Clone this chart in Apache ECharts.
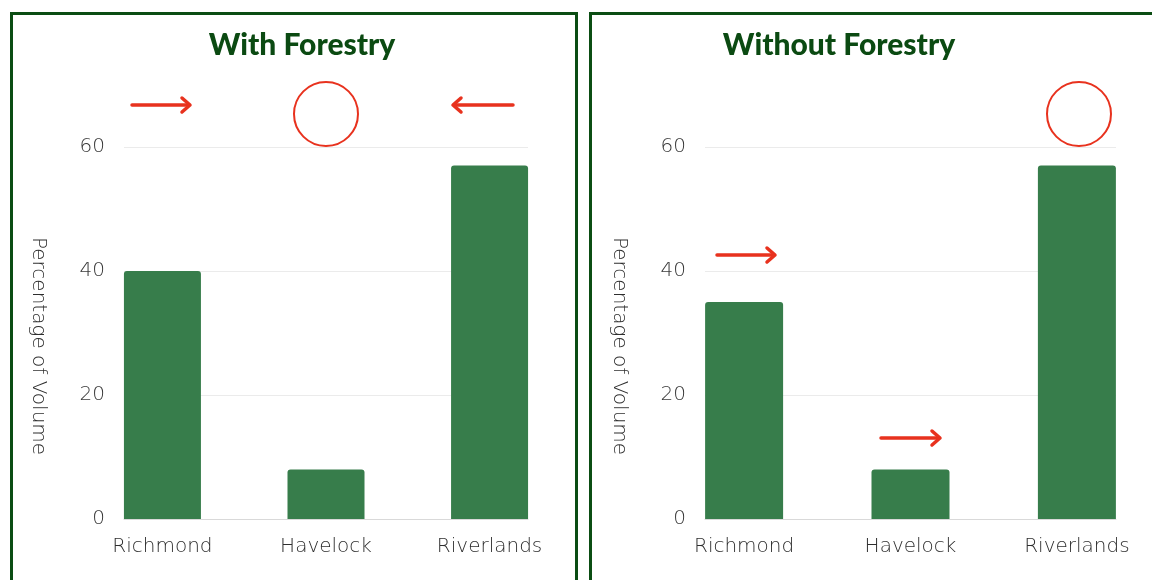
<!DOCTYPE html>
<html>
<head>
<meta charset="utf-8">
<script src="https://cdn.jsdelivr.net/npm/echarts@6/dist/echarts.min.js"></script>
<style>
  html, body { margin: 0; padding: 0; background: #fff; }
  #chart { width: 1152px; height: 580px; }
</style>
</head>
<body>
<div id="chart"></div>
<script>
const categories = ['Richmond', 'Havelock', 'Riverlands']
const withForestry = [40, 8, 57]
const withoutForestry = [35, 8, 57]
const yTicks = [0, 20, 40, 60]

const barColor = '#377d4b'
const titleColor = '#0b4a12'
const red = '#e8321e'
const labelFont = '"DejaVu Sans", sans-serif'
const titleFont = 'Lato, sans-serif'

const chart = echarts.init(document.getElementById('chart'), null, { renderer: 'canvas' })

const makeX = (gridIndex) => ({
  type: 'value',
  gridIndex,
  min: -0.235,
  max: 2.235,
  axisLine: { show: true, onZero: false, lineStyle: { color: '#d9d9d9', width: 1 } },
  axisTick: { show: false },
  splitLine: { show: false },
  axisLabel: {
    customValues: categories.map((c, i) => i),
    formatter: v => categories[Math.round(v)],
    color: '#2e2e2e',
    fontSize: 20,
    fontWeight: 200,
    fontFamily: labelFont,
    margin: 18
  }
})

const makeY = (gridIndex) => ({
  type: 'value',
  gridIndex,
  min: yTicks[0],
  max: yTicks[yTicks.length - 1],
  interval: 20,
  name: 'Percentage of Volume',
  nameLocation: 'middle',
  nameRotate: -90,
  nameGap: 76,
  nameTextStyle: { color: '#2e2e2e', fontSize: 20, fontWeight: 200, fontFamily: labelFont, padding: [0, 0, 0, 26] },
  axisLine: { show: false },
  axisTick: { show: false },
  splitLine: { lineStyle: { color: '#ebebeb', width: 1 } },
  axisLabel: { color: '#3a3a3a', fontSize: 20, fontWeight: 200, fontFamily: labelFont, margin: 19 }
})

const makeSeries = (idx, values, width) => ({
  type: 'bar',
  xAxisIndex: idx,
  yAxisIndex: idx,
  data: values.map((v, i) => [i, v]),
  barWidth: width,
  itemStyle: { color: barColor, borderRadius: [3, 3, 0, 0] }
})

const arrow = (x1, x2, y) => {
  const dir = x2 > x1 ? 1 : -1
  return {
    type: 'group',
    children: [
      { type: 'line', shape: { x1, y1: y, x2: x2 - dir * 2, y2: y },
        style: { stroke: red, lineWidth: 3.5, lineCap: 'round' } },
      { type: 'polyline', shape: { points: [[x2 - dir * 8, y - 7], [x2, y], [x2 - dir * 8, y + 7]] },
        style: { stroke: red, lineWidth: 3.5, lineCap: 'round', lineJoin: 'round', fill: null } }
    ]
  }
}

const circle = (cx, cy) => ({
  type: 'circle',
  shape: { cx, cy, r: 32 },
  style: { stroke: red, lineWidth: 2, fill: null }
})

const option = {
  backgroundColor: '#fff',
  animation: false,
  title: [
    { text: 'With Forestry', left: 297, top: 25, textAlign: 'center',
      textStyle: { color: titleColor, fontSize: 30, fontWeight: 900, fontFamily: titleFont } },
    { text: 'Without Forestry', left: 834, top: 25, textAlign: 'center',
      textStyle: { color: titleColor, fontSize: 30, fontWeight: 900, fontFamily: titleFont } }
  ],
  grid: [
    { left: 124, width: 404, top: 147, bottom: 61 },
    { left: 705, width: 411, top: 147, bottom: 61 }
  ],
  xAxis: [makeX(0), makeX(1)],
  yAxis: [makeY(0), makeY(1)],
  series: [
    makeSeries(0, withForestry, 77),
    makeSeries(1, withoutForestry, 78)
  ],
  graphic: [
    { type: 'rect', shape: { x: 11.5, y: 13.5, width: 565, height: 620 },
      style: { stroke: '#0b4d13', lineWidth: 3, fill: null } },
    { type: 'rect', shape: { x: 590.5, y: 13.5, width: 620, height: 620 },
      style: { stroke: '#0b4d13', lineWidth: 3, fill: null } },
    arrow(132, 190, 105),
    circle(326, 114),
    arrow(513, 453, 105),
    circle(1079, 114),
    arrow(717, 775, 255),
    arrow(881, 940, 438)
  ]
}

chart.setOption(option)
</script>
</body>
</html>
